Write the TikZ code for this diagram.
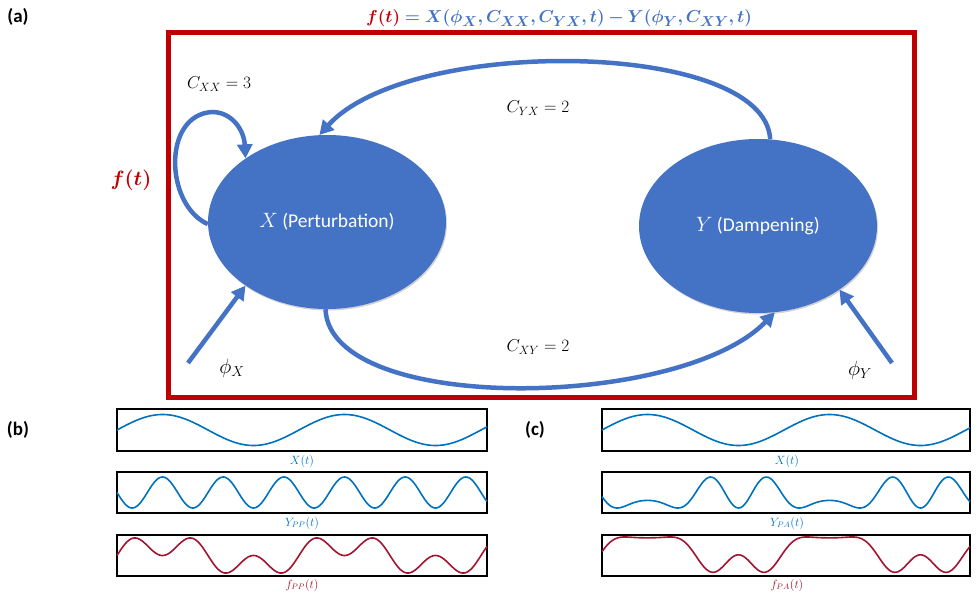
\documentclass[tikz,border=0pt]{standalone}
\usepackage{amsmath}
\usepackage{bm}
\usepackage{fontspec}
\setmainfont{Carlito}
\usetikzlibrary{arrows.meta,shapes.geometric,shadows}
\definecolor{nodeblue}{HTML}{4472C4}
\definecolor{framered}{HTML}{C00000}
\definecolor{wblue}{HTML}{0072BD}
\definecolor{wred}{HTML}{A2142F}
\tikzset{
  ell/.style={ellipse, fill=nodeblue, minimum width=238pt, minimum height=174pt, inner sep=0pt,
    text=white, font=\fontsize{19.5}{22}\selectfont,
    drop shadow={opacity=0.35, shadow xshift=1pt, shadow yshift=-1.5pt}},
  link/.style={draw=nodeblue, line width=4.5pt, -{Triangle[length=14pt,width=15pt]}},
  lab/.style={font=\fontsize{18.5}{20}\selectfont, inner sep=0pt},
  panel/.style={font=\bfseries\fontsize{19}{21}\selectfont, inner sep=0pt},
  plotbox/.style={draw=black, line width=2pt},
  wave/.style={line width=1.6pt, line join=round},
  wlab/.style={font=\fontsize{11.5}{12}\selectfont, inner sep=0pt},
  ttl/.style={font=\fontsize{19}{22}\selectfont, inner sep=0pt}
}
\begin{document}
\begin{tikzpicture}[x=1pt,y=-1pt]
\useasboundingbox (0,0) rectangle (980,599);
% frame
\draw[framered, line width=5pt] (168,33) rectangle (914,397);
% title and labels
\node[ttl, text=nodeblue] (title) at (559,18) {$\bm{{\color{framered}f(t)} = X(\phi_X, C_{XX}, C_{YX}, t) - Y(\phi_Y, C_{XY}, t)}$};
\node[panel] (pa) at (18,17) {(a)};
\node[panel] (pb) at (18,430) {(b)};
\node[panel] (pc) at (535,430) {(c)};
\node[ttl, text=framered, font=\fontsize{20}{22}\selectfont] (ft) at (131,180) {$\bm{f(t)}$};
% ellipses
\node[ell] (X) at (327,222) {$X$ (Perturbation)};
\node[ell] (Y) at (758,226) {$Y$ (Dampening)};
% connectors
\draw[link] (X.181) .. controls (165,205) and (162,115) .. (212,112) .. controls (232,112) and (244,130) .. (X.142);
\draw[link] (Y.82) .. controls (765,40) and (410,35) .. (X.95);
\draw[link] (X.269) .. controls (330,415) and (680,410) .. (Y.281);
\coordinate (px) at (188,363);
\coordinate (py) at (892,363);
\draw[link] (px) -- (X.218);
\draw[link] (py) -- (Y.322);
\node[lab] (cxx) at (219,84) {$C_{XX} = 3$};
\node[lab] (cyx) at (538,108) {$C_{YX} = 2$};
\node[lab] (cxy) at (538,347) {$C_{XY} = 2$};
\node[lab, font=\fontsize{20}{22}\selectfont] (phx) at (232,368) {$\phi_X$};
\node[lab, font=\fontsize{20}{22}\selectfont] (phy) at (860,370) {$\phi_Y$};
% panel (b)
\draw[plotbox] (117,409) rectangle (487,451);
\draw[plotbox] (117,472) rectangle (487,513);
\draw[plotbox] (117,535) rectangle (487,576);
\draw[wave, wblue] plot[domain=0:370, samples=300, smooth] ({117+\x}, {430-15.5*sin(1.978022*\x)});
\draw[wave, wblue] plot[domain=0:370, samples=300, smooth] ({117+\x}, {492.5+15.5*sin(5.934066*\x)});
\draw[wave, wred] plot[domain=0:370, samples=300, smooth] ({117+\x}, {555.5-11.4*(sin(1.978022*\x)+sin(5.934066*\x))});
\node[wlab, text=wblue] (lxb) at (302,461) {$X(t)$};
\node[wlab, text=wblue] (lyb) at (302,523) {$Y_{PP}(t)$};
\node[wlab, text=wred] (lfb) at (302,585) {$f_{PP}(t)$};
% panel (c)
\draw[plotbox] (602,409) rectangle (970,451);
\draw[plotbox] (602,472) rectangle (970,513);
\draw[plotbox] (602,535) rectangle (970,576);
\draw[wave, wblue] plot[domain=0:368, samples=300, smooth] ({602+\x}, {430-15.5*sin(1.978022*\x)});
\draw[wave, wblue] plot[domain=0:368, samples=300, smooth] ({602+\x}, {508-19*(0.6-0.4*sin(1.978022*\x))*(1-sin(5.934066*\x))});
\draw[wave, wred] plot[domain=0:368, samples=300, smooth] ({602+\x}, {554.5-11.2*(sin(1.978022*\x)-1.2*(0.6-0.4*sin(1.978022*\x))*(1-sin(5.934066*\x))+0.97)});
\node[wlab, text=wblue] (lxc) at (787,461) {$X(t)$};
\node[wlab, text=wblue] (lyc) at (787,523) {$Y_{PA}(t)$};
\node[wlab, text=wred] (lfc) at (787,585) {$f_{PA}(t)$};
\end{tikzpicture}
\end{document}
